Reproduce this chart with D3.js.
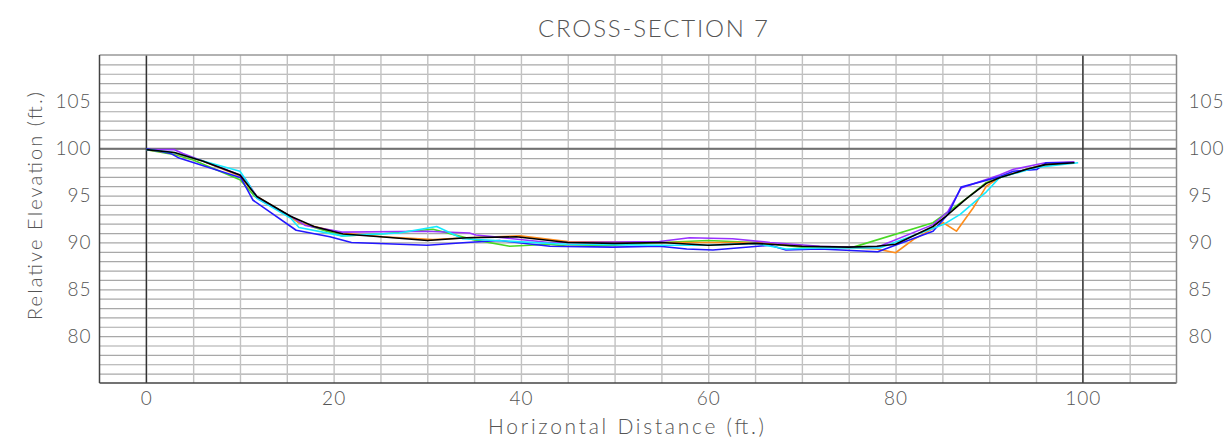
<!DOCTYPE html>
<html><head><meta charset="utf-8">
<script src="https://cdn.jsdelivr.net/npm/d3@7"></script>
<style>
body{margin:0;background:#fff}
text{font-family:Lato,"DejaVu Sans",sans-serif;font-weight:300;fill:#555}
</style>
</head><body>
<svg id="chart" width="1229" height="442"></svg>
<script>
const title = "CROSS-SECTION 7";
const xLabel = "Horizontal Distance (ft.)";
const yLabel = "Relative Elevation (ft.)";
const xTicks = [0, 20, 40, 60, 80, 100];
const yTicks = [80, 85, 90, 95, 100, 105];

const seriesNames  = ["green", "orange", "purple", "blue", "cyan", "black"];
const seriesColors = ["#48d824", "#ff8c1a", "#9933ff", "#2418ff", "#14eaff", "#000000"];

const greenDist  = [0,2.9,5,10,11.6,15.4,16.3,20.9,25,30.6,34.9,38.8,43,45,50,55,60,65,70,75.5,84,87.6,89.7,91.1,94,96,99];
const greenElev  = [99.9,99.4,98.8,96.7,94.9,92.8,92.1,90.7,90.9,91.4,90.3,89.6,89.8,89.6,89.7,90.0,90.2,90.0,89.5,89.5,92.1,94.7,96.4,96.9,97.8,98.3,98.6];
const orangeDist = [0,3,6,10,11.8,15,16.3,20.9,25.2,30.6,34.2,39.9,45,55,60,65,70,75.6,78,80,81.9,85.1,86.5,88.3,89.7,91.1,94,96,99];
const orangeElev = [99.9,99.5,98.7,97.1,94.9,93.0,92.1,91.0,90.6,90.3,90.5,90.7,90.1,90.0,90.0,90.0,89.6,89.4,89.3,88.9,90.3,92.1,91.2,93.7,96.0,96.9,97.8,98.3,98.5];
const purpleDist = [0,3,3.9,10,10.6,12,15.4,17,20.9,29.9,34.5,35.2,43,45,54.8,58,62.6,66.6,71.9,75,78.1,84,85.6,87,91.1,92.6,96,99.1];
const purpleElev = [99.9,99.9,99.5,97.2,96.7,94.6,92.8,91.8,91.1,91.2,91.0,90.8,90.0,90.0,90.1,90.5,90.4,90.0,89.6,89.5,89.5,91.9,93.3,95.8,97.2,97.8,98.5,98.6];
const blueDist   = [0,2.6,3.5,10.1,11.4,16,19.6,21.9,30,34.2,37.7,43.1,49.8,54.8,57.7,60.5,66.6,68.3,71.9,78.1,84,85.6,87,91.1,92.6,95.1,96.1,99.1];
const blueElev   = [100,99.5,99.0,96.9,94.5,91.3,90.6,90.0,89.7,90.0,90.2,89.6,89.5,89.6,89.3,89.2,89.7,89.2,89.3,89.0,91.2,93.0,95.9,97.0,97.6,97.8,98.5,98.5];
const cyanDist   = [0,2.8,10,10.9,11.8,15.4,16.3,20.9,27,31,33.8,43,45,55,60,65,68.3,72,78.3,85.1,86.9,89.7,91.1,95,99.5];
const cyanElev   = [99.9,99.6,97.6,96.3,94.7,92.6,91.6,90.7,91.0,91.7,90.4,89.9,89.8,89.7,89.7,89.9,89.3,89.4,89.4,91.9,93.0,95.4,96.9,98.0,98.5];
const blackDist  = [0,3,6,10,11.8,15.4,17.9,21,25,30,34.2,39.5,45,50,55,60,65,70,75,78,80,84,85.4,87.6,89.7,91.1,94,96,99.1];
const blackElev  = [99.9,99.6,98.7,97.2,94.9,92.8,91.7,90.9,90.6,90.2,90.5,90.6,90.0,89.9,90.0,89.7,89.9,89.6,89.5,89.6,89.8,91.7,92.8,94.7,96.3,96.9,97.8,98.3,98.5];

const seriesDist = [greenDist, orangeDist, purpleDist, blueDist, cyanDist, blackDist];
const seriesElev = [greenElev, orangeElev, purpleElev, blueElev, cyanElev, blackElev];

const svg = d3.select("#chart");
const L = 99.5, R = 1176.5, T = 55, B = 383;
const x = d3.scaleLinear().domain([-5, 110]).range([L, R]);
const y = d3.scaleLinear().domain([75, 110]).range([B, T]);

// horizontal grid every 1 ft
svg.append("g").attr("transform", `translate(${L},0)`)
  .call(d3.axisLeft(y).tickValues(d3.range(76, 110, 1)).tickSize(-(R - L)).tickFormat(""))
  .call(g => g.select(".domain").remove())
  .call(g => g.selectAll("line").attr("stroke", "#a8a8a8").attr("stroke-width", 1.2));

// vertical grid every 5 ft
svg.append("g").attr("transform", `translate(0,${B})`)
  .call(d3.axisBottom(x).tickValues(d3.range(0, 110, 5)).tickSize(-(B - T)).tickFormat(""))
  .call(g => g.select(".domain").remove())
  .call(g => g.selectAll("line").attr("stroke", "#c2c2c2").attr("stroke-width", 1.4));

// reference lines
svg.append("line").attr("x1", L).attr("x2", R).attr("y1", y(100)).attr("y2", y(100))
  .attr("stroke", "#707070").attr("stroke-width", 2);
[0, 100].forEach(v => svg.append("line").attr("x1", x(v)).attr("x2", x(v)).attr("y1", T).attr("y2", B)
  .attr("stroke", "#333").attr("stroke-width", 1.4));

// frame
svg.append("line").attr("x1", L).attr("x2", R).attr("y1", T).attr("y2", T).attr("stroke", "#999").attr("stroke-width", 1.5);
svg.append("line").attr("x1", L).attr("x2", R).attr("y1", B).attr("y2", B).attr("stroke", "#444").attr("stroke-width", 1.5);
svg.append("line").attr("x1", L).attr("x2", L).attr("y1", T).attr("y2", B).attr("stroke", "#444").attr("stroke-width", 1.5);
svg.append("line").attr("x1", R).attr("x2", R).attr("y1", T).attr("y2", B).attr("stroke", "#888").attr("stroke-width", 1.5);

// series
const line = d3.line().x(d => x(d[0])).y(d => y(d[1]));
seriesNames.forEach((name, i) => {
  const pts = seriesDist[i].map((d, j) => [d, seriesElev[i][j]]);
  svg.append("path").datum(pts).attr("d", line)
    .attr("fill", "none").attr("stroke", seriesColors[i]).attr("stroke-width", 1.6)
    .attr("stroke-linejoin", "round");
});

// tick labels
const fs = 19;
const leftAx = svg.append("g").attr("transform", `translate(${L - 8},0)`)
  .call(d3.axisLeft(y).tickValues(yTicks).tickSize(0).tickPadding(0));
const rightAx = svg.append("g").attr("transform", `translate(${R + 12},0)`)
  .call(d3.axisRight(y).tickValues(yTicks).tickSize(0).tickPadding(0));
const botAx = svg.append("g").attr("transform", `translate(0,${B + 8})`)
  .call(d3.axisBottom(x).tickValues(xTicks).tickSize(0).tickPadding(0));
[leftAx, rightAx, botAx].forEach(g => {
  g.select(".domain").remove();
  g.selectAll("text").attr("font-size", fs).attr("fill", "#5a5a5a")
    .style("font-family", "Lato, 'DejaVu Sans', sans-serif").style("letter-spacing", "1px");
});

// titles
svg.append("text").attr("x", 653).attr("y", 37).attr("text-anchor", "middle")
  .attr("font-size", 24).attr("fill", "#444").attr("textLength", 230).attr("lengthAdjust", "spacing")
  .text(title);
svg.append("text").attr("x", 626).attr("y", 434).attr("text-anchor", "middle")
  .attr("font-size", 21).attr("fill", "#5a5a5a").attr("textLength", 276).attr("lengthAdjust", "spacing")
  .text(xLabel);
svg.append("text").attr("transform", "translate(42,206) rotate(-90)").attr("text-anchor", "middle")
  .attr("font-size", 20).attr("fill", "#5a5a5a").attr("textLength", 228).attr("lengthAdjust", "spacing")
  .text(yLabel);
</script>
</body></html>
